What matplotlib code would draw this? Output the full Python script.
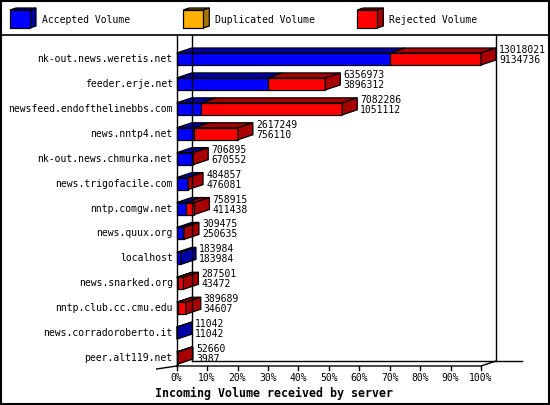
import matplotlib
matplotlib.use("Agg")
import matplotlib.pyplot as plt
from matplotlib.patches import Polygon, Rectangle
from matplotlib.lines import Line2D

servers = ["nk-out.news.weretis.net", "feeder.erje.net", "newsfeed.endofthelinebbs.com",
           "news.nntp4.net", "nk-out.news.chmurka.net", "news.trigofacile.com",
           "nntp.comgw.net", "news.quux.org", "localhost", "news.snarked.org",
           "nntp.club.cc.cmu.edu", "news.corradoroberto.it", "peer.alt119.net"]
total_volume = [13018021, 6356973, 7082286, 2617249, 706895, 484857, 758915,
                309475, 183984, 287501, 389689, 11042, 52660]
accepted_volume = [9134736, 3896312, 1051112, 756110, 670552, 476081, 411438,
                   250635, 183984, 43472, 34607, 11042, 3987]
duplicated_volume = [0] * 13
legend_labels = ["Accepted Volume", "Duplicated Volume", "Rejected Volume"]
xtick_values = [0, 10, 20, 30, 40, 50, 60, 70, 80, 90, 100]
xlabel = "Incoming Volume received by server"

BLUE, DBLUE = "#0000ff", "#0000a8"
ORANGE, DORANGE = "#ffb000", "#a87400"
RED, DRED = "#ff0000", "#a80000"
MONO = "DejaVu Sans Mono"

W, H = 550, 405
fig = plt.figure(figsize=(W / 100, H / 100), dpi=100)
fig.patch.set_facecolor("white")

def fx(px):
    return px / W

def fy(py):
    return 1 - py / H

# plot axes geometry (pixels)
X0, X100 = 176.7, 481.0
YTOP, YBOT = 35.0, 366.0
ROW0, ROWSTEP = 59.0, 24.92
ax = fig.add_axes([fx(X0), fy(YBOT), (X100 - X0) / W, (YBOT - YTOP) / H])
ax.set_xlim(0, 100)
ytop = (YTOP - ROW0) / ROWSTEP
ybot = (YBOT - ROW0) / ROWSTEP
ax.set_ylim(ybot, ytop)
ax.axis("off")

pxx = (X100 - X0) / 100.0   # pixels per x unit
pxy = ROWSTEP               # pixels per y unit
DX = 15 / pxx
DY = -5 / pxy
HH = 6 / pxy

def poly(pts, color):
    p = Polygon(pts, closed=True, facecolor=color, edgecolor="black",
                linewidth=0.9, clip_on=False, joinstyle="miter")
    ax.add_patch(p)

def line(xs, ys):
    ax.add_line(Line2D(xs, ys, color="black", linewidth=1.0, clip_on=False))

# axes frame (3D walls)
line([0, 0], [ytop, ybot])
line([DX, DX], [ytop, ybot + DY])
line([100 + DX, 100 + DX], [ytop, ybot + DY])
line([0, 100, 100 + DX], [ybot, ybot, ybot + DY])
line([DX, 100 + DX + 26 / pxx], [ybot + DY, ybot + DY])
line([0, -20 / pxx], [ybot, ybot + 3 / pxy])
for t in xtick_values:
    line([t, t], [ybot, ybot + 4 / pxy])
    ax.text(t, (378 - ROW0) / pxy, f"{t}%", ha="center", va="center",
            fontsize=7, family=MONO, clip_on=False)

mx = max(total_volume)
for i, name in enumerate(servers):
    a = accepted_volume[i] / mx * 100
    d = duplicated_volume[i] / mx * 100
    t = total_volume[i] / mx * 100
    segs = [(0, a, BLUE, DBLUE), (a, a + d, ORANGE, DORANGE), (a + d, t, RED, DRED)]
    segs = [s for s in segs if s[1] - s[0] > 0]
    y0, y1 = i - HH, i + HH
    for (s0, s1, fc, dc) in segs:
        poly([(s0, y0), (s1, y0), (s1, y1), (s0, y1)], fc)
        poly([(s0, y0), (s1, y0), (s1 + DX, y0 + DY), (s0 + DX, y0 + DY)], dc)
    s0, s1, fc, dc = segs[-1]
    poly([(s1, y0), (s1 + DX, y0 + DY), (s1 + DX, y1 + DY), (s1, y1)], dc)
    # labels
    ax.text(-4 / pxx, i, name, ha="right", va="center", fontsize=7,
            family=MONO, clip_on=False)
    lx = t + DX + 3 / pxx
    ax.text(lx, i - 9 / pxy, str(total_volume[i]), ha="left", va="center",
            fontsize=7, family=MONO, clip_on=False)
    ax.text(lx, i + 1 / pxy, str(accepted_volume[i]), ha="left", va="center",
            fontsize=7, family=MONO, clip_on=False)

fig.text(fx(155), fy(393), xlabel, ha="left", va="center", fontsize=8.4,
         family=MONO, fontweight="bold")

# legend
leg_x = [10, 183.3, 357.3]
leg_cols = [(BLUE, DBLUE), (ORANGE, DORANGE), (RED, DRED)]
for lxp, (fc, dc), lab in zip(leg_x, leg_cols, legend_labels):
    bx0, bx1, by0, by1 = lxp, lxp + 20, 10, 28
    ddx, ddy = 6, -2
    def P(x, y):
        return (fx(x), fy(y))
    fig.patches.append(Polygon([P(bx0, by0), P(bx1, by0), P(bx1 + ddx, by0 + ddy),
                                P(bx0 + ddx, by0 + ddy)], closed=True, facecolor=dc,
                               edgecolor="black", linewidth=0.9,
                               transform=fig.transFigure))
    fig.patches.append(Polygon([P(bx1, by0), P(bx1 + ddx, by0 + ddy), P(bx1 + ddx, by1 + ddy),
                                P(bx1, by1)], closed=True, facecolor=dc,
                               edgecolor="black", linewidth=0.9,
                               transform=fig.transFigure))
    fig.patches.append(Polygon([P(bx0, by0), P(bx1, by0), P(bx1, by1), P(bx0, by1)],
                               closed=True, facecolor=fc, edgecolor="black",
                               linewidth=0.9, transform=fig.transFigure))
    fig.text(fx(lxp + 32), fy(20), lab, ha="left", va="center", fontsize=7,
             family=MONO)

# separator and border
fig.add_artist(Line2D([0, 1], [fy(35), fy(35)], color="black", linewidth=1.2,
                      transform=fig.transFigure))
fig.patches.append(Rectangle((0.001, 0.0015), 0.997, 0.996, fill=False,
                             edgecolor="black", linewidth=1.5,
                             transform=fig.transFigure))

fig.savefig("out.png", dpi=100, facecolor="white")
